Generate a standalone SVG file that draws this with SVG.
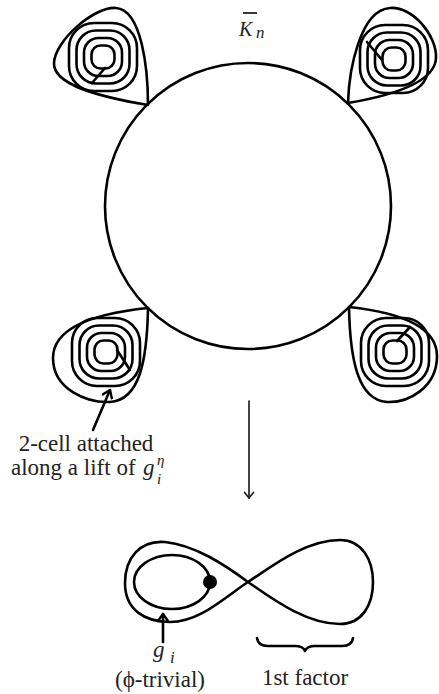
<svg xmlns="http://www.w3.org/2000/svg" width="439" height="694" viewBox="0 0 439 694">
<style>
.ln{fill:none;stroke:#000;stroke-width:2.6;stroke-linecap:round;stroke-linejoin:round}
.thin{fill:none;stroke:#222;stroke-width:1.7;stroke-linecap:round}
text{font-family:'Liberation Serif','DejaVu Serif',serif;font-size:23px;fill:#222}
.it{font-style:italic}
.sm{font-size:15px}
</style>
<defs>
<g id="rings" class="ln">
<rect x="-11.5" y="-11.5" width="23" height="23" rx="9"/>
<rect x="-19" y="-19" width="38" height="38" rx="14.5"/>
<rect x="-26.5" y="-26.5" width="53" height="53" rx="19.5"/>
<rect x="-34" y="-34" width="68" height="68" rx="25"/>
</g>
<marker id="ah" viewBox="-10 -6 12 12" markerWidth="12" markerHeight="12" refX="0" refY="0" orient="auto" markerUnits="userSpaceOnUse">
<path d="M-7,-5 L0,0 L-7,5" fill="none" stroke="#000" stroke-width="2.4" stroke-linecap="round" stroke-linejoin="round"/>
</marker>
<marker id="ahs" viewBox="-10 -6 12 12" markerWidth="12" markerHeight="12" refX="0" refY="0" orient="auto" markerUnits="userSpaceOnUse">
<path d="M-5.5,-4.5 L0,0 L-5.5,4.5" fill="none" stroke="#222" stroke-width="1.7" stroke-linecap="round" stroke-linejoin="round"/>
</marker>
</defs>

<g id="space-Kn">
<circle class="ln" cx="248" cy="206" r="143"/>
<line x1="243" y1="13" x2="257" y2="13" stroke="#222" stroke-width="1.8"/>
<text class="it" x="239" y="36" style="font-size:20px">K<tspan x="256" y="38" style="font-size:17px">n</tspan></text>
</g>

<g id="petal-tl">
<path class="ln" d="M148,105 C148,70 142,10 116,8 C95,6 55,40 54,63 C53,85 100,97 148,105 Z"/>
<use href="#rings" x="103" y="57"/>
<path class="ln" d="M105,68 L92,83"/>
</g>

<g id="petal-tr">
<path class="ln" d="M348,103 C349,70 360,10 390,8 C412,6 437,35 436,58 C435,82 395,95 348,103 Z"/>
<use href="#rings" x="394" y="59"/>
<path class="ln" d="M382,60 L367,42"/>
</g>

<g id="petal-bl">
<path class="ln" d="M148,308 C100,313 53,325 53,358 C53,390 88,403 110,402 C140,400 147,360 148,308 Z"/>
<use href="#rings" x="106" y="352"/>
<path class="ln" d="M117,350 L130,370"/>
</g>

<g id="petal-br">
<path class="ln" d="M349,307 C395,312 437,325 437,356 C437,388 408,403 387,402 C358,400 350,360 349,307 Z"/>
<use href="#rings" x="395" y="352"/>
<path class="ln" d="M397,341 L410,327"/>
</g>

<g id="figure-eight">
<path class="ln" d="M248,582 C225,565 195,545 165,542 C140,540 125,558 125,583 C125,610 145,622 170,622 C200,622 225,597 248,582 C271,567 305,540 340,540 C362,540 373,560 373,582 C373,605 362,624 340,624 C305,624 270,597 248,582 Z"/>
<ellipse class="ln" cx="172" cy="582" rx="38" ry="27"/>
<circle cx="210" cy="582" r="7" fill="#000"/>
</g>

<g id="brace">
<path class="ln" d="M257,638 Q258,646 268,646 L295,646 Q303,646 305,651 Q307,646 315,646 L342,646 Q352,646 353,638"/>
</g>

<g id="connectors">
<line class="ln" x1="93" y1="430" x2="110" y2="390" marker-end="url(#ah)"/>
<line class="thin" x1="249" y1="401" x2="249" y2="498" marker-end="url(#ahs)"/>
<line class="ln" x1="163" y1="642" x2="163" y2="614" marker-end="url(#ah)"/>
</g>

<g id="labels">
<text x="86" y="451" text-anchor="middle">2-cell attached</text>
<text x="11" y="475">along a lift of <tspan class="it" x="143">g</tspan><tspan class="it sm" x="157" y="465">η</tspan><tspan class="it sm" x="157" y="484">i</tspan></text>
<text class="it" x="153" y="657">g<tspan x="170" y="663" style="font-size:17px">i</tspan></text>
<text x="160" y="687" text-anchor="middle">(ϕ-trivial)</text>
<text x="305" y="685" text-anchor="middle">1st factor</text>
</g>
</svg>
